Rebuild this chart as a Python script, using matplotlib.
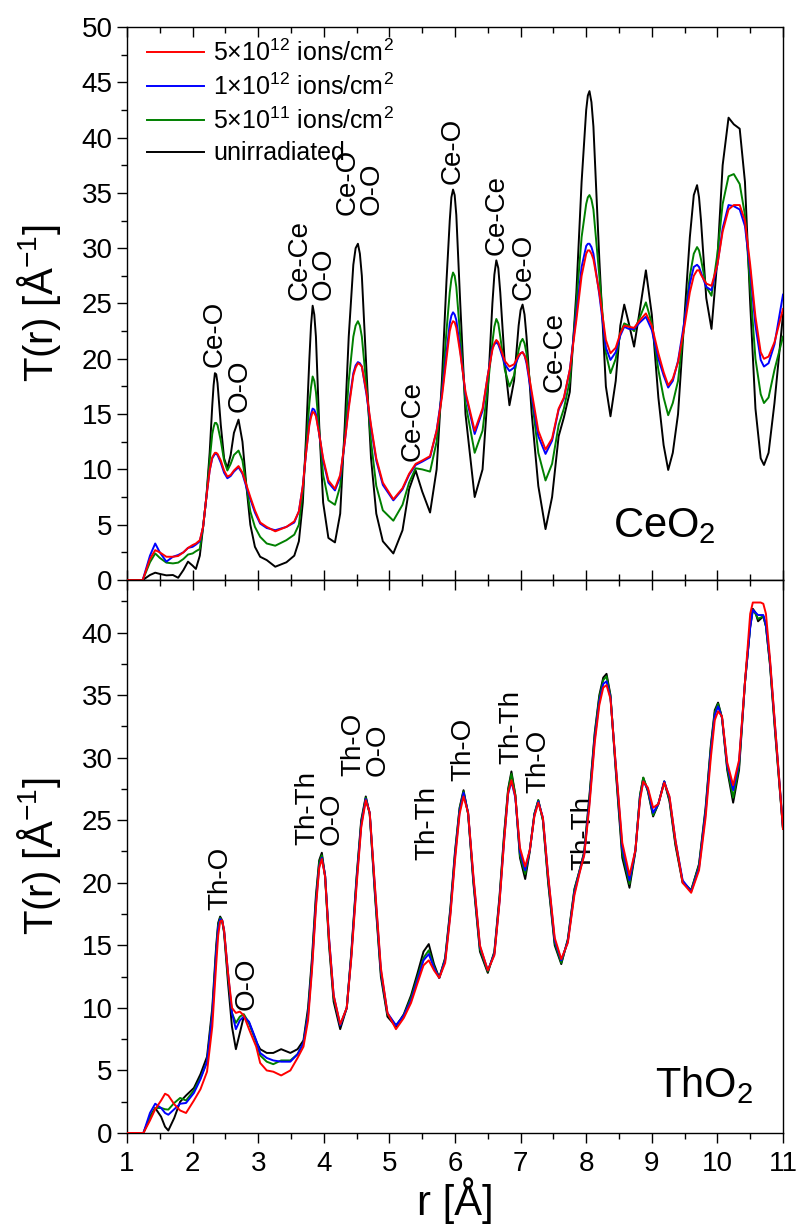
import matplotlib
matplotlib.use("Agg")
import matplotlib.pyplot as plt
from matplotlib.ticker import MultipleLocator

plt.rcParams['font.family'] = ['Liberation Sans', 'DejaVu Sans']
plt.rcParams['mathtext.fontset'] = 'custom'
plt.rcParams['mathtext.rm'] = 'Liberation Sans'
plt.rcParams['mathtext.it'] = 'Liberation Sans:italic'
plt.rcParams['mathtext.bf'] = 'Liberation Sans:bold'

# ---------------- CeO2 (top panel) ----------------
ce_r = [1.0, 1.24, 1.35, 1.43, 1.5, 1.6, 1.7, 1.78, 1.86, 1.93,
        2.0, 2.05, 2.11, 2.16, 2.21, 2.26, 2.30, 2.32, 2.34, 2.36, 2.38, 2.43,
        2.48, 2.53, 2.58, 2.63, 2.70, 2.76, 2.82, 2.88, 2.95, 3.03,
        3.13, 3.26, 3.43, 3.55, 3.62, 3.68, 3.73, 3.78, 3.805, 3.83, 3.855, 3.88,
        3.93, 3.99, 4.07, 4.17, 4.25, 4.32, 4.38, 4.45, 4.485, 4.52, 4.55, 4.58,
        4.65, 4.72, 4.80, 4.90, 5.06, 5.20, 5.30, 5.40, 5.50, 5.62,
        5.72, 5.80, 5.87, 5.92, 5.945, 5.97, 5.995, 6.02, 6.08, 6.16, 6.30, 6.42,
        6.50, 6.57, 6.60, 6.63, 6.66, 6.69, 6.76, 6.83, 6.90, 6.97, 7.00, 7.03, 7.06, 7.09,
        7.17, 7.27, 7.38, 7.48, 7.58, 7.66, 7.75, 7.85, 7.93, 8.00,
        8.025, 8.05, 8.08, 8.11, 8.20, 8.30, 8.37, 8.45, 8.52, 8.58, 8.65, 8.73,
        8.82, 8.91, 9.00, 9.10, 9.18, 9.25, 9.32, 9.40, 9.50, 9.58, 9.64, 9.69, 9.72,
        9.75, 9.83, 9.91, 10.0, 10.08, 10.17, 10.25, 10.34, 10.42, 10.50,
        10.58, 10.66, 10.71, 10.78, 10.87, 11.0]

ce_unirr = [0, 0, 0.45, 0.66, 0.55, 0.42, 0.45, 0.2, 0.9, 1.66,
            1.3, 1.0, 2.2, 4.8, 7.5, 11.5, 15.8, 17.6, 18.7, 18.6, 17.8, 14.0,
            11.0, 10.1, 11.3, 13.3, 14.5, 12.5, 8.5, 5.0, 3.0, 2.1,
            1.8, 1.2, 1.6, 2.2, 3.5, 7.0, 13.0, 20.0, 23.0, 24.8, 24.0, 22.0,
            14.0, 7.0, 3.8, 3.4, 6.0, 14.0, 22.0, 28.5, 30.0, 30.4, 29.5, 27.5,
            19.0, 11.0, 6.0, 3.5, 2.4, 4.5, 8.2, 9.9, 8.0, 6.1,
            10.0, 18.0, 27.0, 32.5, 34.6, 35.3, 34.8, 33.0, 25.0, 15.0, 7.5, 10.0,
            17.0, 25.0, 27.6, 28.9, 28.2, 26.0, 19.5, 15.8, 18.0, 23.0, 24.4, 24.9, 24.0, 22.0,
            15.0, 8.5, 4.6, 7.5, 13.0, 14.7, 17.0, 26.0, 36.0, 42.5,
            43.8, 44.2, 43.2, 41.0, 29.0, 17.5, 14.8, 18.0, 23.0, 24.9, 23.2, 21.1,
            24.5, 28.0, 24.0, 16.5, 12.2, 9.95, 11.5, 15.0, 24.0, 31.0, 34.8, 35.7, 34.6,
            32.5, 25.5, 22.7, 29.0, 37.5, 41.8, 41.2, 40.8, 36.0, 25.0,
            15.5, 11.0, 10.4, 11.5, 16.0, 24.0]

ce_5e11 = [0, 0, 1.6, 2.4, 2.0, 1.57, 1.5, 1.57, 1.9, 2.3,
           2.4, 2.6, 2.8, 4.8, 7.5, 10.8, 13.2, 13.8, 14.2, 14.2, 14.0, 12.6,
           10.8, 9.9, 10.5, 11.3, 11.7, 10.8, 8.5, 6.2, 4.8, 3.9,
           3.3, 3.1, 3.6, 4.1, 5.0, 8.0, 12.0, 16.0, 17.4, 18.4, 18.0, 17.0,
           13.5, 9.5, 7.2, 6.8, 8.5, 13.0, 18.0, 22.0, 23.0, 23.4, 23.0, 22.0,
           17.5, 12.5, 8.5, 6.3, 5.36, 6.8, 8.8, 10.1, 10.0, 9.8,
           12.5, 17.0, 22.5, 26.0, 27.2, 27.8, 27.5, 26.5, 22.0, 16.0, 11.5, 13.5,
           17.5, 21.5, 22.9, 23.6, 23.2, 22.0, 19.0, 17.5, 18.5, 20.8, 21.5, 21.8, 21.4, 20.5,
           16.5, 11.5, 9.0, 10.5, 14.0, 15.5, 18.0, 25.0, 31.0, 34.0,
           34.6, 34.8, 34.4, 33.5, 27.5, 20.5, 18.7, 20.0, 22.3, 23.2, 23.0, 22.5,
           23.8, 25.1, 23.2, 19.0, 16.5, 14.9, 16.0, 18.0, 23.5, 27.5, 29.5, 30.1, 29.8,
           29.0, 26.5, 25.7, 29.5, 34.0, 36.5, 36.7, 35.8, 33.0, 26.5,
           20.0, 16.8, 16.0, 16.5, 19.0, 22.0]

ce_1e12 = [0, 0, 2.2, 3.3, 2.5, 1.66, 2.1, 2.26, 2.5, 2.9,
           3.0, 3.2, 3.5, 4.8, 7.5, 9.9, 11.0, 11.2, 11.4, 11.4, 11.3, 10.6,
           9.7, 9.2, 9.4, 9.8, 10.2, 9.6, 8.4, 7.3, 6.1, 5.1,
           4.7, 4.5, 4.8, 5.2, 6.2, 8.5, 11.5, 14.2, 15.0, 15.5, 15.4, 15.0,
           13.2, 10.8, 8.8, 8.1, 9.3, 12.5, 15.8, 18.7, 19.4, 19.7, 19.6, 19.3,
           16.8, 13.8, 10.8, 8.6, 7.2, 8.2, 9.5, 10.4, 10.7, 11.1,
           13.5, 16.8, 20.5, 23.2, 23.9, 24.2, 24.0, 23.5, 20.8, 16.8, 13.2, 15.3,
           18.5, 21.0, 21.3, 21.5, 21.3, 20.8, 19.5, 18.9, 19.2, 20.2, 20.5, 20.6, 20.3, 19.6,
           16.6, 13.0, 11.4, 12.6, 15.4, 16.4, 19.0, 24.0, 28.3, 30.2,
           30.4, 30.4, 30.1, 29.5, 25.8, 21.0, 19.9, 20.6, 22.1, 22.9, 22.7, 22.7,
           23.3, 23.8, 22.6, 20.0, 18.5, 17.4, 18.0, 19.8, 23.5, 26.8, 28.3, 28.5, 28.3,
           27.8, 26.5, 26.2, 28.5, 31.8, 33.9, 33.8, 33.5, 32.0, 28.0,
           23.0, 19.9, 19.3, 19.6, 21.3, 25.8]

ce_5e12 = [0, 0, 1.9, 2.7, 2.5, 2.1, 2.1, 2.17, 2.5, 2.9,
           3.16, 3.3, 3.6, 4.8, 7.5, 9.9, 11.1, 11.3, 11.5, 11.5, 11.4, 10.8,
           9.9, 9.35, 9.5, 9.9, 10.3, 9.7, 8.6, 7.5, 6.3, 5.2,
           4.8, 4.4, 4.8, 5.3, 6.2, 8.5, 11.5, 14.0, 14.7, 15.2, 15.1, 14.8,
           13.2, 11.0, 9.0, 8.25, 9.5, 12.5, 15.5, 18.5, 19.2, 19.6, 19.5, 19.3,
           17.0, 14.0, 11.0, 8.8, 7.3, 8.3, 9.6, 10.5, 10.8, 11.2,
           13.5, 16.5, 20.0, 22.5, 23.1, 23.4, 23.3, 22.8, 20.5, 17.0, 13.5, 15.5,
           18.5, 20.8, 21.4, 21.7, 21.5, 21.0, 19.8, 19.3, 19.5, 20.3, 20.5, 20.6, 20.3, 19.8,
           17.0, 13.5, 11.8, 12.8, 15.5, 16.5, 19.0, 23.5, 27.5, 29.5,
           29.8, 29.8, 29.5, 29.0, 26.0, 21.7, 20.5, 21.0, 22.3, 23.0, 22.9, 22.8,
           23.5, 24.1, 23.0, 20.5, 18.8, 17.6, 18.2, 19.7, 23.0, 26.0, 27.5, 28.0, 28.0,
           27.6, 26.8, 26.6, 28.5, 31.5, 33.5, 33.9, 33.9, 32.5, 28.5,
           23.8, 20.6, 20.0, 20.2, 21.5, 24.5]

# ---------------- ThO2 (bottom panel) ----------------
th_r = [1.0, 1.25, 1.35, 1.43, 1.52, 1.58, 1.63, 1.72, 1.81, 1.90,
        2.02, 2.12, 2.22, 2.30, 2.36, 2.39, 2.42, 2.45, 2.48, 2.54, 2.60, 2.66,
        2.72, 2.78, 2.86, 2.97, 3.03, 3.13, 3.23, 3.35, 3.49, 3.60,
        3.69, 3.76, 3.82, 3.88, 3.93, 3.97, 4.02, 4.08, 4.15, 4.25,
        4.35, 4.42, 4.50, 4.57, 4.64, 4.70, 4.78, 4.87, 4.97, 5.10,
        5.22, 5.33, 5.43, 5.52, 5.60, 5.68, 5.76, 5.85, 5.93, 6.00,
        6.07, 6.13, 6.20, 6.28, 6.38, 6.50, 6.60, 6.68, 6.75, 6.81,
        6.86, 6.92, 6.99, 7.07, 7.14, 7.21, 7.27, 7.34, 7.42, 7.52,
        7.62, 7.72, 7.82, 7.90, 7.97, 8.05, 8.13, 8.20, 8.26, 8.31,
        8.37, 8.45, 8.55, 8.66, 8.75, 8.82, 8.87, 8.94, 9.02, 9.10,
        9.19, 9.27, 9.36, 9.47, 9.60, 9.72, 9.82, 9.90, 9.96, 10.01,
        10.07, 10.15, 10.24, 10.33, 10.42, 10.50, 10.54, 10.58, 10.62, 10.66,
        10.70, 10.74, 10.80, 10.88, 10.95, 11.0]

th_unirr = [0, 0, 1.3, 2.0, 1.3, 0.5, 0.2, 1.2, 2.5, 3.0,
            3.6, 4.7, 6.1, 10.0, 15.0, 16.8, 17.3, 17.0, 16.0, 12.0, 8.5, 6.7,
            8.0, 9.3, 8.8, 7.3, 6.7, 6.4, 6.4, 6.7, 6.4, 6.7,
            7.4, 10.0, 14.0, 19.0, 21.8, 22.4, 20.5, 15.0, 10.5, 8.3,
            10.0, 14.5, 20.5, 25.0, 26.9, 25.5, 19.0, 12.5, 9.3, 8.5,
            9.5, 11.0, 12.8, 14.5, 15.1, 13.5, 12.4, 14.0, 18.0, 22.5,
            26.0, 27.4, 25.5, 20.0, 14.5, 12.8, 14.5, 19.0, 24.0, 27.5,
            28.9, 27.0, 22.0, 20.3, 22.5, 25.5, 26.6, 25.0, 20.0, 15.0,
            13.5, 15.5, 19.5, 21.0, 22.5, 27.0, 32.0, 35.0, 36.4, 36.7,
            35.0, 29.0, 22.0, 19.6, 22.5, 27.0, 28.4, 27.3, 25.3, 26.3,
            28.1, 26.5, 23.0, 20.0, 19.4, 21.5, 26.0, 31.0, 33.8, 34.4,
            33.2, 29.0, 26.4, 29.0, 36.0, 40.5, 41.9, 41.6, 40.9, 41.1,
            41.3, 40.5, 37.5, 32.0, 27.5, 24.3]

th_5e11 = [0, 0, 1.2, 2.0, 2.0, 1.9, 1.87, 2.4, 2.8, 2.6,
           3.4, 4.4, 5.7, 9.6, 14.6, 16.6, 17.2, 17.0, 16.1, 12.5, 9.6, 8.8,
           9.3, 9.5, 8.8, 7.3, 6.2, 5.7, 5.5, 5.8, 5.8, 6.3,
           7.2, 9.6, 13.6, 18.6, 21.6, 22.2, 20.5, 15.3, 10.8, 8.6,
           10.0, 14.3, 20.3, 24.8, 26.8, 25.5, 19.2, 12.8, 9.5, 8.6,
           9.4, 10.8, 12.5, 14.0, 14.6, 13.3, 12.4, 13.9, 17.8, 22.3,
           25.9, 27.3, 25.5, 20.2, 14.7, 12.9, 14.4, 18.8, 23.8, 27.4,
           28.7, 27.0, 22.2, 20.7, 22.6, 25.5, 26.6, 25.0, 20.2, 15.2,
           13.6, 15.4, 19.4, 21.0, 22.4, 26.8, 31.8, 34.8, 36.2, 36.5,
           34.9, 29.2, 22.4, 19.9, 22.6, 27.0, 28.4, 27.4, 25.4, 26.3,
           28.1, 26.6, 23.2, 20.1, 19.4, 21.4, 25.8, 30.8, 33.6, 34.3,
           33.2, 29.2, 26.8, 29.3, 36.0, 40.5, 41.8, 41.5, 41.1, 41.2,
           41.3, 40.5, 37.6, 32.2, 27.6, 24.3]

th_1e12 = [0, 0, 1.6, 2.34, 2.0, 1.6, 1.46, 1.9, 2.34, 2.4,
           3.2, 4.3, 5.7, 9.4, 14.4, 16.4, 17.1, 17.0, 16.2, 12.8, 9.6, 8.3,
           9.0, 9.3, 8.9, 7.4, 6.4, 6.0, 5.8, 5.7, 5.7, 6.3,
           7.2, 9.4, 13.3, 18.3, 21.3, 22.0, 20.6, 15.6, 11.0, 8.6,
           10.0, 14.2, 20.1, 24.6, 26.7, 25.6, 19.5, 13.0, 9.6, 8.6,
           9.4, 10.6, 12.3, 13.8, 14.3, 13.2, 12.4, 13.8, 17.6, 22.1,
           25.7, 27.2, 25.6, 20.4, 14.9, 13.0, 14.3, 18.6, 23.5, 27.1,
           28.1, 26.8, 22.5, 21.0, 22.6, 25.4, 26.5, 25.2, 20.5, 15.4,
           13.8, 15.3, 19.2, 20.9, 22.3, 26.5, 31.5, 34.5, 35.9, 36.1,
           34.8, 29.4, 22.8, 20.2, 22.6, 26.8, 28.1, 27.5, 25.6, 26.3,
           28.1, 26.8, 23.4, 20.2, 19.3, 21.2, 25.6, 30.5, 33.4, 34.1,
           33.2, 29.4, 27.4, 29.6, 36.0, 40.4, 41.8, 41.6, 41.4, 41.4,
           41.4, 40.6, 37.8, 32.4, 27.7, 24.4]

th_5e12 = [0, 0, 1.0, 1.9, 2.6, 3.14, 3.0, 2.3, 1.8, 1.6,
           2.6, 3.5, 4.9, 8.5, 13.5, 15.8, 16.9, 17.0, 16.2, 12.8, 10.0, 9.6,
           9.7, 9.4, 8.3, 6.9, 5.6, 5.0, 4.9, 4.6, 5.0, 6.0,
           6.9, 9.0, 13.0, 18.0, 21.2, 21.9, 20.5, 15.5, 11.0, 8.7,
           10.0, 14.0, 19.8, 24.4, 26.6, 25.6, 19.7, 13.2, 9.6, 8.3,
           9.2, 10.4, 12.0, 13.4, 13.8, 13.0, 12.4, 13.6, 17.4, 21.8,
           25.5, 26.9, 25.6, 20.6, 15.0, 13.0, 14.2, 18.5, 23.4, 27.2,
           28.2, 26.9, 22.8, 21.3, 22.6, 25.3, 26.4, 25.2, 20.6, 15.6,
           13.9, 15.2, 19.0, 20.8, 22.2, 26.2, 31.2, 34.2, 35.6, 35.8,
           34.7, 29.5, 23.2, 20.6, 22.6, 26.6, 28.1, 27.6, 26.0, 26.3,
           28.0, 26.9, 23.4, 20.0, 19.2, 21.0, 25.2, 30.0, 33.0, 33.7,
           33.3, 29.6, 27.8, 29.8, 36.0, 41.5, 42.4, 42.4, 42.4, 42.4,
           42.3, 41.5, 38.0, 32.5, 27.8, 24.3]

series_labels = [r'5$\times$10$^{12}$ ions/cm$^{2}$',
                 r'1$\times$10$^{12}$ ions/cm$^{2}$',
                 r'5$\times$10$^{11}$ ions/cm$^{2}$',
                 'unirradiated']
series_colors = ['#ff0000', '#0000ff', '#008000', '#000000']

ce_peaks = [(2.34, 19.3, 'Ce-O'), (2.72, 15.2, 'O-O'),
            (3.82, 25.3, 'Ce-Ce\nO-O'), (4.54, 33.0, 'Ce-O\nO-O'),
            (5.36, 10.8, 'Ce-Ce'), (5.97, 35.8, 'Ce-O'),
            (6.64, 29.4, 'Ce-Ce'), (7.05, 25.3, 'Ce-O'),
            (7.52, 17.0, 'Ce-Ce')]
th_peaks = [(2.42, 17.8, 'Th-O'), (2.82, 9.8, 'O-O'),
            (3.94, 23.0, 'Th-Th\nO-O'), (4.64, 28.5, 'Th-O\nO-O'),
            (5.58, 21.8, 'Th-Th'), (6.13, 28.1, 'Th-O'),
            (6.86, 29.5, 'Th-Th'), (7.27, 27.2, 'Th-O'),
            (7.95, 21.0, 'Th-Th')]

fig = plt.figure(figsize=(8.0, 12.3), dpi=100)
ax1 = fig.add_axes([0.15875, 0.52846, 0.82, 0.4496])
ax2 = fig.add_axes([0.15875, 0.07886, 0.82, 0.4496])

LW = 1.4
for ax, r, curves in [(ax1, ce_r, [ce_5e12, ce_1e12, ce_5e11, ce_unirr]),
                      (ax2, th_r, [th_5e12, th_1e12, th_5e11, th_unirr])]:
    handles = []
    for vals, col, lab, z in zip(curves, series_colors, series_labels, [5, 4, 3, 2]):
        h, = ax.plot(r, vals, color=col, lw=LW, label=lab, zorder=z,
                     solid_joinstyle='round')
        handles.append(h)
    ax.set_xlim(1, 11)
    ax.xaxis.set_major_locator(MultipleLocator(1))
    ax.xaxis.set_minor_locator(MultipleLocator(0.5))
    ax.yaxis.set_major_locator(MultipleLocator(5))
    ax.yaxis.set_minor_locator(MultipleLocator(2.5))
    ax.tick_params(axis='y', which='both', direction='out', left=True, right=False,
                   labelsize=20, width=1.0)
    ax.tick_params(axis='y', which='major', length=7)
    ax.tick_params(axis='y', which='minor', length=4)
    ax.set_ylabel(r'T(r) [Å$^{-1}$]', fontsize=29)
    ax.yaxis.set_label_coords(-0.097, 0.5)
    for s in ax.spines.values():
        s.set_linewidth(1.0)
    if ax is ax1:
        leg_handles = handles

ax1.set_ylim(0, 50)
ax2.set_ylim(0, 44.2)

# top panel: x ticks inward top and bottom, no labels
ax1.tick_params(axis='x', which='both', direction='in', top=True, bottom=True,
                labelbottom=False, width=1.0)
ax1.tick_params(axis='x', which='major', length=7)
ax1.tick_params(axis='x', which='minor', length=4)

# bottom panel: outward bottom ticks with labels, inward top ticks
ax2.tick_params(axis='x', which='both', direction='out', bottom=True, top=False,
                labelsize=20, width=1.0)
ax2.tick_params(axis='x', which='major', length=7, pad=6)
ax2.tick_params(axis='x', which='minor', length=4)
sec = ax2.secondary_xaxis('top')
sec.xaxis.set_major_locator(MultipleLocator(1))
sec.xaxis.set_minor_locator(MultipleLocator(0.5))
sec.tick_params(axis='x', which='both', direction='in', labeltop=False, width=1.0)
sec.tick_params(axis='x', which='major', length=7)
sec.tick_params(axis='x', which='minor', length=4)
ax2.set_xlabel('r [Å]', fontsize=30)
ax2.xaxis.set_label_coords(0.5, -0.08)

for ax, peaks in [(ax1, ce_peaks), (ax2, th_peaks)]:
    for x, y, txt in peaks:
        ax.text(x, y, txt, rotation=90, ha='center', va='bottom',
                multialignment='left', fontsize=20, linespacing=0.9)

ax1.text(8.41, 3.9, r'CeO$_2$', fontsize=30, ha='left', va='baseline')
ax2.text(9.05, 2.9, r'ThO$_2$', fontsize=30, ha='left', va='baseline')

ax1.legend(handles=leg_handles, loc='upper left', bbox_to_anchor=(0.03, 0.977),
           frameon=False, fontsize=18, borderpad=0, borderaxespad=0,
           handlelength=2.3, handletextpad=0.35, labelspacing=0.3)

fig.savefig('out.png', dpi=100)
